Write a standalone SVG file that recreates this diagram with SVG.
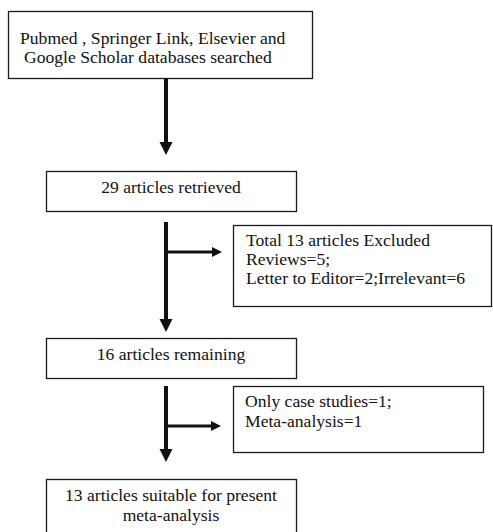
<svg xmlns="http://www.w3.org/2000/svg" width="493" height="532" viewBox="0 0 493 532">
<style>
.box{fill:#fff;stroke:#1a1a1a;stroke-width:1.3}
text{font-family:'Liberation Serif','Times New Roman',serif;font-size:17.6px;fill:#111}
.c{text-anchor:middle}
.v{stroke:#111;stroke-width:4;fill:none}
.h{stroke:#111;stroke-width:3;fill:none}
.ah{fill:#111}
</style>
<rect width="493" height="532" fill="#fff"/>
<g id="n1">
<rect class="box" x="8.5" y="11.5" width="304" height="67"/>
<text x="20" y="44">Pubmed , Springer Link, Elsevier and</text>
<text x="24" y="63">Google Scholar databases searched</text>
</g>
<g id="n2">
<rect class="box" x="46.5" y="171.5" width="250" height="40"/>
<text class="c" x="171" y="193">29 articles retrieved</text>
</g>
<g id="n3">
<rect class="box" x="233.5" y="225.5" width="258" height="81"/>
<text x="246" y="246">Total 13 articles Excluded</text>
<text x="246" y="265">Reviews=5;</text>
<text x="246" y="284">Letter to Editor=2;Irrelevant=6</text>
</g>
<g id="n4">
<rect class="box" x="46.5" y="338.5" width="250" height="40"/>
<text class="c" x="171" y="360">16 articles remaining</text>
</g>
<g id="n5">
<rect class="box" x="233.5" y="386.5" width="250" height="66"/>
<text x="245" y="407">Only case studies=1;</text>
<text x="245" y="427">Meta-analysis=1</text>
</g>
<g id="n6">
<rect class="box" x="46.5" y="479.5" width="250" height="70"/>
<text class="c" x="171" y="501">13 articles suitable for present</text>
<text class="c" x="171" y="521">meta-analysis</text>
</g>
<g id="connectors">
<line class="v" x1="166" y1="78" x2="166" y2="143"/>
<polygon class="ah" points="159.5,142 172.5,142 166,155"/>
<line class="v" x1="166" y1="222" x2="166" y2="320"/>
<polygon class="ah" points="159.5,319 172.5,319 166,332"/>
<line class="h" x1="166" y1="252" x2="213" y2="252"/>
<polygon class="ah" points="212,247 222,252 212,257"/>
<line class="v" x1="166" y1="386" x2="166" y2="450"/>
<polygon class="ah" points="159.5,449 172.5,449 166,462"/>
<line class="h" x1="166" y1="426" x2="212" y2="426"/>
<polygon class="ah" points="211,421 221,426 211,431"/>
</g>
</svg>
